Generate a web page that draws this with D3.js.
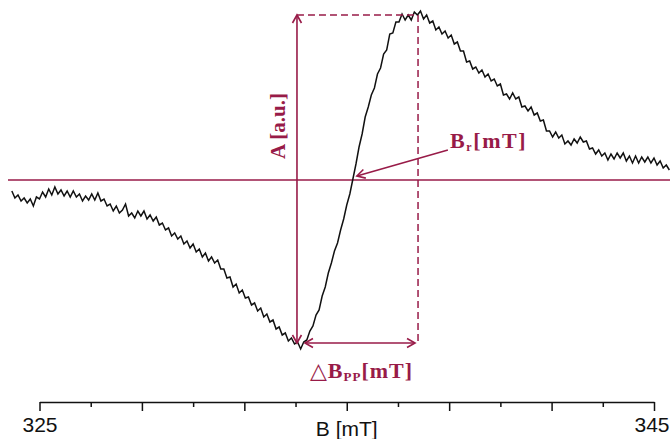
<!DOCTYPE html>
<html>
<head>
<meta charset="utf-8">
<script src="https://cdn.jsdelivr.net/npm/d3@7/dist/d3.min.js"></script>
<style>
  html, body { margin: 0; padding: 0; background: #fff; }
  svg { display: block; }
</style>
</head>
<body>
<svg id="chart" width="670" height="439"></svg>
<script>
// Magnetic field sweep, mT
const fieldB = [
  324.1,324.2,324.3,324.4,324.5,324.6,324.7,324.8,324.9,325.0,
  325.1,325.2,325.3,325.4,325.5,325.6,325.7,325.8,325.9,326.0,
  326.1,326.2,326.3,326.4,326.5,326.6,326.7,326.8,326.9,327.0,
  327.1,327.2,327.3,327.4,327.5,327.6,327.7,327.8,327.9,328.0,
  328.1,328.2,328.3,328.4,328.5,328.6,328.7,328.8,328.9,329.0,
  329.1,329.2,329.3,329.4,329.5,329.6,329.7,329.8,329.9,330.0,
  330.1,330.2,330.3,330.4,330.5,330.6,330.7,330.8,330.9,331.0,
  331.1,331.2,331.3,331.4,331.5,331.6,331.7,331.8,331.9,332.0,
  332.1,332.2,332.3,332.4,332.5,332.6,332.7,332.8,332.9,333.0,
  333.1,333.2,333.3,333.4,333.5,333.6,333.7,333.8,333.9,334.0,
  334.1,334.2,334.3,334.4,334.5,334.6,334.7,334.8,334.9,335.0,
  335.1,335.2,335.3,335.4,335.5,335.6,335.7,335.8,335.9,336.0,
  336.1,336.2,336.3,336.4,336.5,336.6,336.7,336.8,336.9,337.0,
  337.1,337.2,337.3,337.4,337.5,337.6,337.7,337.8,337.9,338.0,
  338.1,338.2,338.3,338.4,338.5,338.6,338.7,338.8,338.9,339.0,
  339.1,339.2,339.3,339.4,339.5,339.6,339.7,339.8,339.9,340.0,
  340.1,340.2,340.3,340.4,340.5,340.6,340.7,340.8,340.9,341.0,
  341.1,341.2,341.3,341.4,341.5,341.6,341.7,341.8,341.9,342.0,
  342.1,342.2,342.3,342.4,342.5,342.6,342.7,342.8,342.9,343.0,
  343.1,343.2,343.3,343.4,343.5,343.6,343.7,343.8,343.9,344.0,
  344.1,344.2,344.3,344.4,344.5,344.6,344.7,344.8,344.9,345.0,
  345.1,345.2,345.3,345.4,345.5
];

// First-derivative EPR signal amplitude, a.u.
const signalA = [
  -11,-18,-15,-21,-18,-23,-19,-26,-17,-19,
  -12,-17,-9,-15,-7,-14,-10,-16,-11,-17,
  -11,-17,-14,-21,-16,-20,-14,-20,-13,-21,
  -19,-26,-24,-31,-26,-33,-30,-24,-36,-33,
  -38,-31,-36,-31,-39,-35,-41,-37,-45,-43,
  -50,-48,-56,-53,-59,-56,-64,-61,-68,-64,
  -72,-69,-77,-73,-81,-77,-83,-80,-89,-89,
  -98,-97,-107,-104,-113,-110,-118,-117,-125,-123,
  -131,-128,-137,-134,-142,-140,-149,-147,-155,-153,
  -161,-158,-164,-162,-169,-162,-160,-151,-146,-135,
  -130,-116,-107,-93,-83,-71,-63,-50,-39,-25,
  -14,1,16,33,46,63,73,85,92,106,
  112,126,130,146,147,158,158,166,160,165,
  160,168,165,169,161,165,157,159,150,153,
  146,149,142,145,136,138,129,129,118,119,
  111,113,107,110,103,106,99,101,94,96,
  85,86,81,87,81,83,73,74,69,73,
  65,67,59,60,49,49,43,48,42,45,
  36,39,35,41,37,43,38,39,31,32,
  26,30,24,27,20,26,21,27,22,27,
  19,24,17,24,17,23,18,23,17,22,
  15,19,12,15,10
];

// Axis ticks
const majorTicks = [325, 328.333, 331.667, 335, 338.333, 341.667, 345];
const minorTicks = [326.667, 330, 333.333, 336.667, 340, 343.333];
const tickLabels = ["325", "", "", "", "", "", "345"];
const axisTitle = "B [mT]";

// Spectral parameters marked on the trace
const fieldTrough = 333.38;   // low-field extremum
const fieldPeak = 337.32;     // high-field extremum
const fieldRes = 335.2;       // zero crossing, Br
const ampTop = 165;
const ampBottom = -163;

const accent = "#981b48";

const svg = d3.select("#chart");
svg.append("rect").attr("width", 670).attr("height", 439).attr("fill", "#fff");

const x = d3.scaleLinear().domain([325, 345]).range([39.5, 654]);
const y = d3.scaleLinear().domain([-165, 165]).range([345, 15]);

// arrowhead marker (open V)
const defs = svg.append("defs");
defs.append("marker")
  .attr("id", "arr")
  .attr("viewBox", "-10 -6 12 12")
  .attr("refX", 0).attr("refY", 0)
  .attr("markerWidth", 12).attr("markerHeight", 12)
  .attr("markerUnits", "userSpaceOnUse")
  .attr("orient", "auto-start-reverse")
  .append("path")
  .attr("d", "M-8,-4.5 L0,0 L-8,4.5")
  .attr("fill", "none")
  .attr("stroke", accent)
  .attr("stroke-width", 1.6);

// zero baseline
svg.append("line")
  .attr("x1", 8).attr("x2", 670)
  .attr("y1", y(0)).attr("y2", y(0))
  .attr("stroke", accent).attr("stroke-width", 1.6);

// spectrum trace
const pts = fieldB.map((b, i) => [b, signalA[i]]);
svg.append("path")
  .datum(pts)
  .attr("fill", "none")
  .attr("stroke", "#111")
  .attr("stroke-width", 1.5)
  .attr("stroke-linejoin", "miter")
  .attr("d", d3.line().x(d => x(d[0])).y(d => y(d[1])));

// peak-to-peak guides
const dash = "7,4";
svg.append("line")
  .attr("x1", x(fieldTrough)).attr("x2", x(fieldPeak))
  .attr("y1", y(ampTop)).attr("y2", y(ampTop))
  .attr("stroke", accent).attr("stroke-width", 1.5)
  .attr("stroke-dasharray", dash);
svg.append("line")
  .attr("x1", x(fieldPeak)).attr("x2", x(fieldPeak))
  .attr("y1", y(ampTop)).attr("y2", y(ampBottom))
  .attr("stroke", accent).attr("stroke-width", 1.5)
  .attr("stroke-dasharray", dash);

// amplitude arrow
svg.append("line")
  .attr("x1", x(fieldTrough)).attr("x2", x(fieldTrough))
  .attr("y1", y(ampTop)).attr("y2", y(ampBottom))
  .attr("stroke", accent).attr("stroke-width", 1.6)
  .attr("marker-start", "url(#arr)")
  .attr("marker-end", "url(#arr)");

// line-width arrow
svg.append("line")
  .attr("x1", x(fieldTrough) + 8).attr("x2", x(fieldPeak) - 3)
  .attr("y1", y(ampBottom)).attr("y2", y(ampBottom))
  .attr("stroke", accent).attr("stroke-width", 1.6)
  .attr("marker-start", "url(#arr)")
  .attr("marker-end", "url(#arr)");

// Br pointer
const tipX = x(fieldRes) + 4, tipY = y(0) - 4;
svg.append("line")
  .attr("x1", tipX + 91).attr("y1", tipY - 26)
  .attr("x2", tipX).attr("y2", tipY)
  .attr("stroke", accent).attr("stroke-width", 1.6)
  .attr("marker-end", "url(#arr)");

const serif = "'Liberation Serif', 'DejaVu Serif', serif";

// A [a.u.]
svg.append("text")
  .attr("transform", `translate(${x(fieldTrough) - 12},126) rotate(-90)`)
  .attr("text-anchor", "middle")
  .attr("font-family", serif).attr("font-weight", "bold")
  .attr("font-size", 21).attr("fill", accent)
  .text("A [a.u.]");

// Br[mT]
const br = svg.append("text")
  .attr("x", 450).attr("y", 148)
  .attr("font-family", serif).attr("font-weight", "bold")
  .attr("font-size", 22).attr("fill", accent)
  .attr("letter-spacing", 1.6);
br.append("tspan").text("B");
br.append("tspan").attr("font-size", 12).attr("dy", 3).text("r");
br.append("tspan").attr("dy", -3).text("[mT]");

// ΔBpp[mT]
const dbpp = svg.append("text")
  .attr("x", (x(fieldTrough) + x(fieldPeak)) / 2 + 4).attr("y", 378)
  .attr("text-anchor", "middle")
  .attr("font-family", serif).attr("font-weight", "bold")
  .attr("font-size", 22).attr("fill", accent)
  .attr("letter-spacing", 1);
dbpp.append("tspan").attr("font-family", "'DejaVu Sans', sans-serif").attr("font-weight", "normal").text("\u25B3");
dbpp.append("tspan").text("B");
dbpp.append("tspan").attr("font-size", 13).attr("dy", 3).text("PP");
dbpp.append("tspan").attr("dy", -3).text("[mT]");

// field axis
const axisY = 402;
const gMajor = svg.append("g")
  .attr("transform", `translate(0,${axisY})`)
  .call(d3.axisBottom(x).tickValues(majorTicks).tickSize(9).tickSizeOuter(0).tickFormat((d, i) => tickLabels[i]));
gMajor.select(".domain").attr("stroke", "#111").attr("stroke-width", 1.6);
gMajor.selectAll(".tick line").attr("stroke", "#111").attr("stroke-width", 1.5);
gMajor.selectAll(".tick text")
  .attr("font-family", "'Liberation Sans', Arial, sans-serif")
  .attr("font-size", 21).attr("fill", "#111")
  .attr("y", 15).attr("dy", "0.71em");
// keep the last label inside the frame
gMajor.selectAll(".tick text").filter((d, i) => i === majorTicks.length - 1)
  .attr("text-anchor", "end").attr("x", 15);

const gMinor = svg.append("g")
  .attr("transform", `translate(0,${axisY})`)
  .call(d3.axisBottom(x).tickValues(minorTicks).tickSize(5).tickFormat(""));
gMinor.select(".domain").remove();
gMinor.selectAll(".tick line").attr("stroke", "#111").attr("stroke-width", 1.5);

svg.append("text")
  .attr("x", (x(325) + x(345)) / 2).attr("y", 436)
  .attr("text-anchor", "middle")
  .attr("font-family", "'Liberation Sans', Arial, sans-serif")
  .attr("font-size", 21).attr("fill", "#111")
  .text(axisTitle);
</script>
</body>
</html>
